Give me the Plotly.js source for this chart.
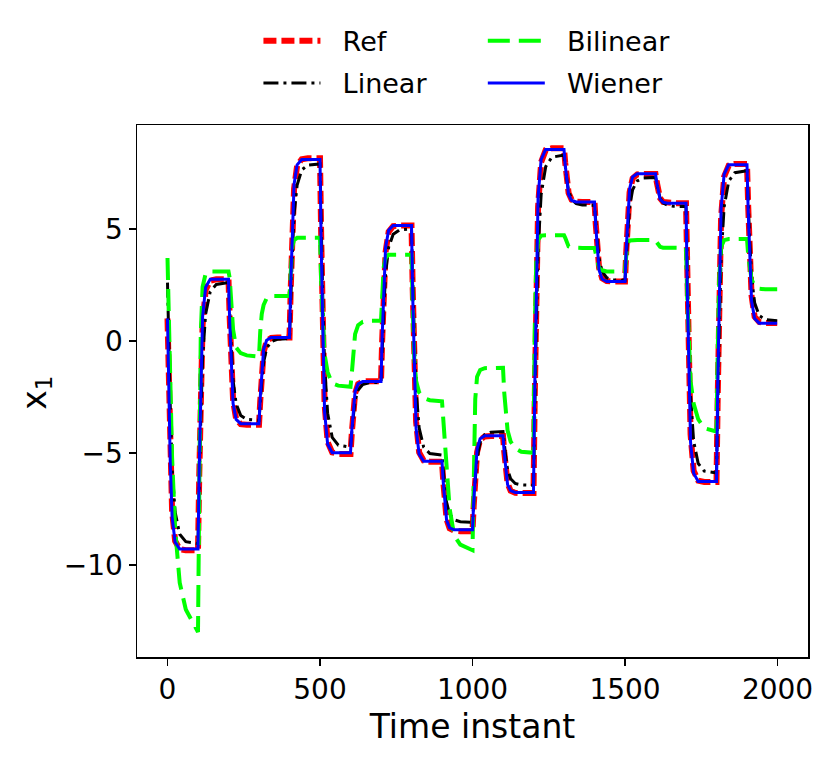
<!DOCTYPE html>
<html>
<head>
<meta charset="utf-8">
<script src="https://cdn.plot.ly/plotly-3.0.1.min.js"></script>
<style>
  html, body { margin: 0; padding: 0; background: #fff; }
  #chart { width: 831px; height: 761px; }
</style>
</head>
<body>
<div id="chart"></div>
<script>
// time instants (dense around each step change)
var timeSteps = [0,4,9,15,25,40,60,100,104,109,115,125,140,160,200,204,209,215,225,240,260,
  300,304,309,315,325,340,360,400,404,409,415,425,440,460,500,504,509,515,525,540,560,
  600,604,609,615,625,640,660,700,704,709,715,725,740,760,800,804,809,815,825,840,860,
  900,904,909,915,925,940,960,1000,1004,1009,1015,1025,1040,1060,1100,1104,1109,1115,1125,1140,1160,
  1200,1204,1209,1215,1225,1240,1260,1300,1304,1309,1315,1325,1340,1360,1400,1404,1409,1415,1425,1440,1460,
  1500,1504,1509,1515,1525,1540,1560,1600,1604,1609,1615,1625,1640,1660,1700,1704,1709,1715,1725,1740,1760,
  1800,1804,1809,1815,1825,1840,1860,1900,1904,1909,1915,1925,1940,1960,1999];

var refX1 = [1.0,-1.79,-5.0,-7.59,-8.94,-9.3,-9.35, -9.35,-6.08,-2.33,0.69,2.27,2.69,2.75,
  2.75,1.0,-1.02,-2.65,-3.49,-3.72,-3.75, -3.75,-2.7,-1.49,-0.51,-0.01,0.13,0.15,
  0.15,2.31,4.79,6.79,7.83,8.11,8.15, 8.15,4.59,0.49,-2.81,-4.52,-4.98,-5.05,
  -5.05,-4.17,-3.17,-2.35,-1.93,-1.82,-1.8, -1.8,0.08,2.23,3.97,4.87,5.12,5.15,
  5.15,2.3,-0.97,-3.61,-4.98,-5.35,-5.4, -5.4,-6.24,-7.2,-7.97,-8.38,-8.48,-8.5,
  -8.5,-7.35,-6.03,-4.97,-4.42,-4.27,-4.25, -4.25,-4.94,-5.73,-6.37,-6.7,-6.79,-6.8,
  -6.8,-2.64,2.13,5.98,7.98,8.52,8.6, 8.6,7.95,7.21,6.61,6.3,6.21,6.2,
  6.2,5.24,4.14,3.25,2.79,2.67,2.65, 2.65,3.95,5.43,6.63,7.26,7.43,7.45,
  7.45,7.1,6.7,6.37,6.2,6.16,6.15, 6.15,2.79,-1.07,-4.18,-5.8,-6.24,-6.3,
  -6.3,-2.47,1.94,5.49,7.33,7.83,7.9, 7.9,5.98,3.78,2.01,1.08,0.84,0.8, 0.8];

var linearX1 = [2.6,-0.08,-2.88,-5.67,-7.65,-8.64,-8.97, -9.05,-6.37,-3.57,-0.78,1.2,2.19,2.52,
  2.6,1.19,-0.29,-1.77,-2.81,-3.33,-3.51, -3.55,-2.71,-1.83,-0.96,-0.34,-0.03,0.07,
  0.1,1.89,3.77,5.64,6.96,7.63,7.85, 7.9,4.99,1.95,-1.08,-3.23,-4.31,-4.66,
  -4.75,-4.08,-3.39,-2.69,-2.2,-1.95,-1.87, -1.85,-0.27,1.37,3.01,4.18,4.76,4.95,
  5.0,2.68,0.25,-2.17,-3.89,-4.75,-5.03, -5.1,-5.79,-6.51,-7.23,-7.74,-7.99,-8.08,
  -8.1,-7.17,-6.2,-5.22,-4.54,-4.19,-4.08, -4.05,-4.6,-5.18,-5.75,-6.16,-6.37,-6.43,
  -6.45,-3.06,0.48,4.02,6.53,7.78,8.2, 8.3,7.78,7.24,6.7,6.32,6.13,6.07,
  6.05,5.28,4.48,3.67,3.1,2.82,2.72, 2.7,3.76,4.86,5.97,6.75,7.14,7.27,
  7.3,7.0,6.69,6.38,6.16,6.05,6.01, 6.0,3.26,0.41,-2.45,-4.47,-5.48,-5.82,
  -5.9,-2.8,0.45,3.69,5.98,7.13,7.51, 7.6,6.06,4.45,2.84,1.7,1.13,0.95, 0.9];

var bilinearX1 = [3.7,1.3,-1.8,-5.2,-8.4,-10.8,-12.0, -13.0,-7.0,0.3,2.4,3.0,3.1,3.1,
  3.1,2.8,1.8,0.5,-0.3,-0.55,-0.65, -0.7,0.4,1.2,1.6,1.9,2.0,2.0,
  2.0,3.0,4.2,4.5,4.6,4.6,4.6, 4.6,2.5,0.5,-0.6,-1.4,-1.9,-2.0,
  -2.05,-1.5,-0.5,0.3,0.7,0.85,0.9, 0.9,2.0,3.3,3.7,3.85,3.85,3.85,
  3.85,1.5,-0.8,-1.8,-2.3,-2.55,-2.65, -2.7,-3.5,-4.4,-5.6,-7.5,-8.7,-9.1,
  -9.35,-5.0,-2.6,-1.6,-1.3,-1.22,-1.2, -1.2,-2.3,-3.4,-4.0,-4.5,-4.8,-4.95,
  -5.0,0.5,3.5,4.5,4.7,4.72,4.72, 4.72,4.6,4.35,4.22,4.17,4.15,4.15,
  4.15,3.9,3.5,3.25,3.15,3.1,3.1, 3.1,3.8,4.35,4.48,4.5,4.5,4.5,
  4.5,4.4,4.28,4.2,4.16,4.15,4.15, 4.15,2.0,-0.3,-1.8,-2.8,-3.5,-3.9,
  -4.05,-0.5,2.8,4.2,4.5,4.55,4.55, 4.55,3.8,3.2,2.75,2.45,2.33,2.3, 2.3];

var wienerX1 = [1.0,-2.09,-5.39,-7.86,-8.99,-9.3,-9.3, -9.3,-5.68,-1.83,1.06,2.39,2.75,2.75,
  2.75,0.82,-1.25,-2.8,-3.51,-3.7,-3.7, -3.7,-2.55,-1.31,-0.39,0.03,0.15,0.15,
  0.15,2.54,5.08,6.99,7.86,8.1,8.1, 8.1,4.17,-0.02,-3.17,-4.61,-5.0,-5.0,
  -5.0,-4.05,-3.03,-2.27,-1.92,-1.82,-1.82, -1.82,0.27,2.5,4.17,4.94,5.15,5.15,
  5.15,1.99,-1.38,-3.91,-5.06,-5.38,-5.38, -5.38,-6.3,-7.28,-8.01,-8.35,-8.44,-8.44,
  -8.44,-7.18,-5.84,-4.83,-4.37,-4.24,-4.24, -4.24,-5.0,-5.81,-6.42,-6.69,-6.77,-6.77,
  -6.77,-2.17,2.73,6.41,8.09,8.55,8.55, 8.55,7.85,7.09,6.53,6.27,6.2,6.2,
  6.2,5.14,4.0,3.15,2.76,2.65,2.65, 2.65,4.09,5.63,6.79,7.32,7.46,7.46,
  7.46,7.07,6.65,6.33,6.19,6.15,6.15, 6.15,2.42,-1.56,-4.54,-5.91,-6.28,-6.28,
  -6.28,-2.04,2.49,5.88,7.44,7.86,7.86, 7.86,5.74,3.48,1.78,1.0,0.79,0.79, 0.79];

var xTicks = [0, 500, 1000, 1500, 2000];
var yTicks = [-10, -5, 0, 5];

var fontFam = "DejaVu Sans, Liberation Sans, sans-serif";
var gap = "\u00a0\u00a0";

var traces = [
  {
    x: timeSteps, y: refX1, name: gap + "Ref", type: "scatter", mode: "lines",
    line: {color: "#ff0000", width: 6, dash: "13px,5px"},
    legend: "legend", legendgroup: "a"
  },
  {
    x: timeSteps, y: linearX1, name: gap + "Linear", type: "scatter", mode: "lines",
    line: {color: "#000000", width: 3, dash: "15px,5px,3px,5px"},
    legend: "legend", legendgroup: "b"
  },
  {
    x: timeSteps, y: bilinearX1, name: gap + "Bilinear", type: "scatter", mode: "lines",
    line: {color: "#00ff00", width: 4, dash: "22px,9px"},
    legend: "legend2", legendgroup: "c"
  },
  {
    x: timeSteps, y: wienerX1, name: gap + "Wiener", type: "scatter", mode: "lines",
    line: {color: "#0000ff", width: 3},
    legend: "legend2", legendgroup: "d"
  }
];

var legendBase = {
  bgcolor: "rgba(0,0,0,0)",
  borderwidth: 0,
  font: {family: fontFam, size: 27, color: "#000"},
  xref: "container", yref: "container",
  xanchor: "left", yanchor: "top",
  y: 0.978,
  itemwidth: 57,
  tracegroupgap: 4,
  itemclick: false
};

var layout = {
  width: 831,
  height: 761,
  margin: {l: 137, r: 23, t: 125, b: 104, autoexpand: false},
  paper_bgcolor: "#ffffff",
  plot_bgcolor: "#ffffff",
  font: {family: fontFam, size: 28, color: "#000"},
  showlegend: true,
  legend: Object.assign({}, legendBase, {x: 0.311}),
  legend2: Object.assign({}, legendBase, {x: 0.581}),
  xaxis: {
    range: [-100, 2100],
    tickvals: xTicks,
    ticks: "outside", ticklen: 7, tickwidth: 1.5, tickcolor: "#000",
    showline: true, mirror: true, linecolor: "#000", linewidth: 1.5,
    showgrid: false, zeroline: false, automargin: false,
    tickfont: {family: fontFam, size: 28},
    title: {text: "Time instant", font: {family: fontFam, size: 33}, standoff: 10}
  },
  yaxis: {
    range: [-14.12, 9.64],
    tickvals: yTicks,
    ticks: "outside", ticklen: 7, tickwidth: 1.5, tickcolor: "#000",
    showline: true, mirror: true, linecolor: "#000", linewidth: 1.5,
    showgrid: false, zeroline: false, automargin: false,
    tickfont: {family: fontFam, size: 28}
  },
  annotations: [
    {
      text: "x<sub>1</sub>", xref: "paper", yref: "paper",
      x: -0.151, y: 0.496, xanchor: "center", yanchor: "middle",
      textangle: -90, showarrow: false,
      font: {family: fontFam, size: 33, color: "#000"}
    }
  ]
};

Plotly.newPlot("chart", traces, layout, {staticPlot: true, displayModeBar: false});
</script>
</body>
</html>
